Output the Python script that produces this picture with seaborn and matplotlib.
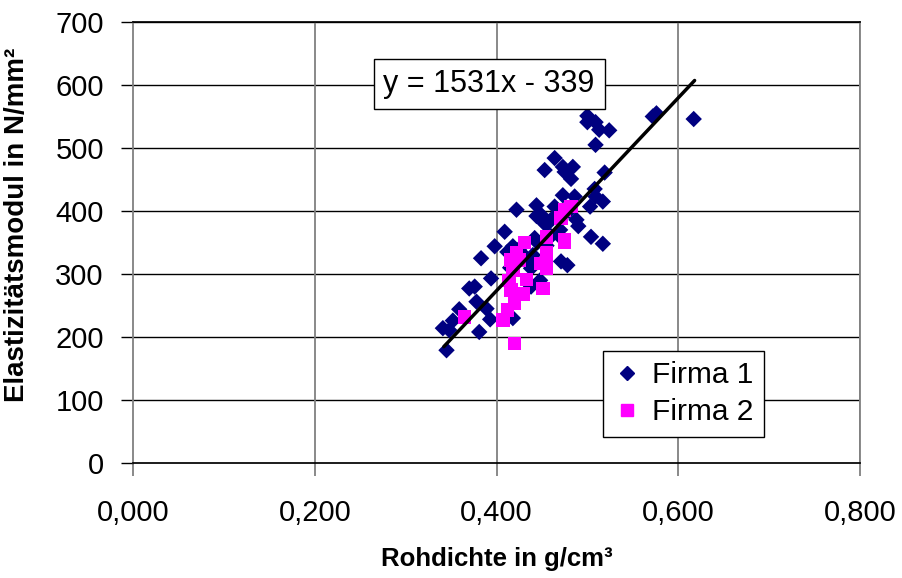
import numpy as np
import pandas as pd
import matplotlib
matplotlib.use("Agg")
import matplotlib.pyplot as plt
from matplotlib.lines import Line2D
import seaborn as sns

# Rohdichte (g/cm³) and Elastizitätsmodul (N/mm²) per supplier
firma1_x = [0.345, 0.341, 0.348, 0.352, 0.359, 0.370, 0.376, 0.378, 0.381, 0.389,
            0.393, 0.394, 0.383, 0.398, 0.409, 0.422, 0.444, 0.444, 0.453, 0.464,
            0.449, 0.462, 0.470, 0.455, 0.488, 0.490, 0.504, 0.517, 0.471, 0.478,
            0.418, 0.418, 0.442, 0.438, 0.448, 0.438, 0.464, 0.453, 0.473, 0.484,
            0.475, 0.482, 0.519, 0.473, 0.486, 0.508, 0.509, 0.517, 0.503, 0.500,
            0.500, 0.509, 0.513, 0.524, 0.509, 0.576, 0.572, 0.617, 0.425, 0.430,
            0.412, 0.445, 0.455, 0.460, 0.435, 0.415, 0.470, 0.480, 0.468, 0.440]
firma1_y = [179, 214, 211, 226, 244, 277, 280, 256, 208, 245,
            228, 293, 325, 344, 367, 402, 409, 392, 380, 407,
            394, 389, 370, 378, 386, 376, 359, 348, 320, 314,
            230, 344, 357, 280, 290, 309, 484, 465, 470, 470,
            462, 451, 461, 425, 423, 435, 423, 415, 407, 551,
            541, 541, 529, 528, 505, 555, 550, 546, 340, 330,
            335, 350, 345, 360, 320, 310, 390, 400, 362, 330]

firma2_x = [0.365, 0.407, 0.412, 0.416, 0.418, 0.414, 0.420, 0.420, 0.416, 0.422,
            0.425, 0.431, 0.429, 0.433, 0.418, 0.451, 0.455, 0.455, 0.449, 0.475,
            0.455, 0.455, 0.475, 0.482, 0.471, 0.475, 0.420]
firma2_y = [232, 227, 243, 275, 306, 290, 254, 190, 322, 333,
            322, 350, 268, 291, 317, 277, 333, 309, 317, 351,
            322, 359, 402, 407, 389, 354, 267]

# Linear trend line
slope, intercept = 1531, -339
trend_x = [0.342, 0.618]

x_ticks = [0.0, 0.2, 0.4, 0.6, 0.8]
x_tick_labels = ["0,000", "0,200", "0,400", "0,600", "0,800"]
y_ticks = [0, 100, 200, 300, 400, 500, 600, 700]

df = pd.DataFrame({
    "Rohdichte": firma1_x + firma2_x,
    "E": firma1_y + firma2_y,
    "Firma": ["Firma 1"] * len(firma1_x) + ["Firma 2"] * len(firma2_x),
})

sns.set_theme(style="white")
plt.rcParams["font.family"] = ["Liberation Sans", "DejaVu Sans"]

fig = plt.figure(figsize=(9.02, 5.78), dpi=100)
ax = fig.add_axes([133 / 902, 1 - 463 / 578, (860 - 133) / 902, (463 - 22) / 578])

# grid: black horizontal, grey vertical
for yv in y_ticks[1:]:
    ax.axhline(yv, color="black", lw=1.0, zorder=0)
for xv in x_ticks[1:]:
    ax.axvline(xv, color="#808080", lw=1.3, zorder=0)

sns.scatterplot(data=df, x="Rohdichte", y="E", hue="Firma", style="Firma",
                markers={"Firma 1": "D", "Firma 2": "s"},
                palette={"Firma 1": "#000080", "Firma 2": "#FF00FF"},
                size="Firma", sizes={"Firma 1": 70, "Firma 2": 95},
                linewidth=0, ax=ax, zorder=3, legend=False)

tx = np.array(trend_x)
sns.lineplot(x=tx, y=slope * tx + intercept, color="black", lw=2.5, ax=ax, zorder=4)

ax.set_xlim(0, 0.8)
ax.set_ylim(0, 700)
ax.set_xticks(x_ticks)
ax.set_xticklabels(x_tick_labels)
ax.set_yticks(y_ticks)
ax.tick_params(axis="both", labelsize=21, colors="black")
ax.tick_params(axis="y", direction="out", length=9, width=1, color="black", left=True, pad=12)
ax.tick_params(axis="x", direction="out", length=9, width=1.3, color="#808080", bottom=True, pad=17)

for side in ["top", "right", "left", "bottom"]:
    ax.spines[side].set_visible(True)
ax.spines["left"].set_color("#808080")
ax.spines["left"].set_linewidth(1.3)
ax.spines["bottom"].set_color("black")
ax.spines["top"].set_color("black")
ax.spines["right"].set_color("#808080")
ax.spines["right"].set_linewidth(1.3)

ax.set_xlabel("Rohdichte in g/cm³", fontsize=18.5, fontweight="bold",
              color="black", labelpad=14)
ax.set_ylabel("Elastizitätsmodul in N/mm²", fontsize=20, fontweight="bold",
              color="black")
ax.yaxis.set_label_coords((30 - 133) / 727, (463 - 225) / 441)

ax.text(0.2755, 602, "y = 1531x - 339", fontsize=22, ha="left", va="center", zorder=6,
        color="black",
        bbox=dict(boxstyle="square,pad=0.32", fc="white", ec="black", lw=1))

handles = [
    Line2D([], [], marker="D", color="#000080", ls="none", markersize=7),
    Line2D([], [], marker="s", color="#FF00FF", ls="none", markersize=8.5),
]
leg = ax.legend(handles, ["Firma 1", "Firma 2"], loc="upper left",
                bbox_to_anchor=((603 - 133) / 727, (463 - 351) / 441),
                fontsize=21.5, frameon=True, fancybox=False, edgecolor="black",
                framealpha=1, borderpad=0.35, handletextpad=0.4, labelspacing=0.3,
                handlelength=0.9, borderaxespad=0)
leg.get_frame().set_linewidth(1)
leg.set_zorder(7)
for t in leg.get_texts():
    t.set_color("black")

fig.savefig("out.png", dpi=100)
